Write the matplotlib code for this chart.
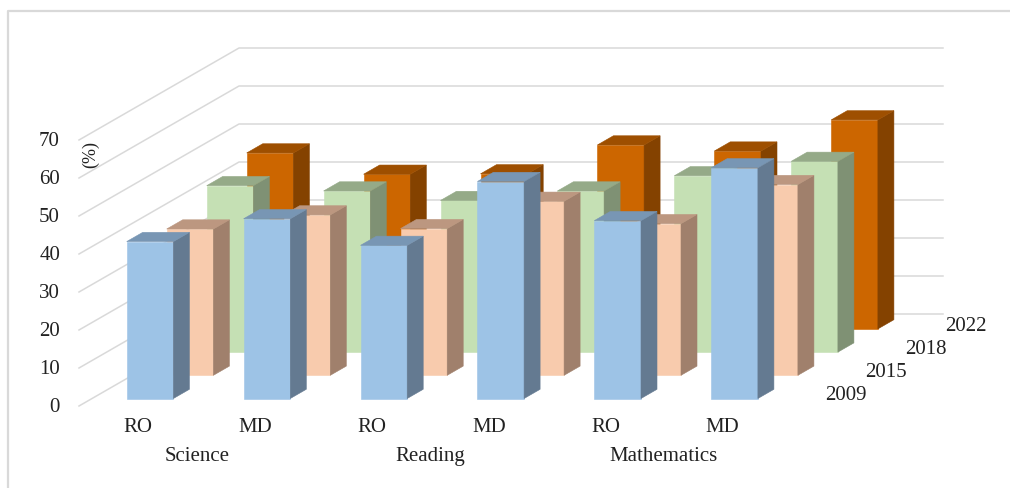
import matplotlib
matplotlib.use('Agg')
from matplotlib import pyplot as plt

# values (%)
subjects = ['Science', 'Reading', 'Mathematics']
countries = ['RO', 'MD', 'RO', 'MD', 'RO', 'MD']
years = ['2009', '2015', '2018', '2022']
y_ticks = [0, 10, 20, 30, 40, 50, 60, 70]

values_2009 = [41.3, 47.3, 40.3, 57.1, 46.8, 60.7]
values_2015 = [38.5, 42.2, 38.6, 45.8, 39.9, 50.2]
values_2018 = [43.8, 42.4, 39.9, 42.4, 46.4, 50.2]
values_2022 = [46.3, 40.7, 40.8, 48.4, 46.8, 55.0]
all_values = [values_2009, values_2015, values_2018, values_2022]

# front, side, top
colors = [('#9DC3E6', '#647A91', '#7896B4'),
          ('#F8CBAD', '#A0806C', '#BC9780'),
          ('#C5E0B4', '#7F9174', '#95AA88'),
          ('#CC6600', '#844200', '#9E4F00')]

# pixels of the oblique view
UNIT = 3.8
BAR_W = 46.7
GROUP_STEP = 116.9
ROW_DX = 40.0
ROW_DY = -23.2
SIDE_DX = 16.0
SIDE_DY = -9.2
FONT = 'Liberation Serif'
SIZE = 15


def project(group, row):
    # left bottom corner of a bar front
    return 126.7 + group * GROUP_STEP + row * ROW_DX, 398.5 + row * ROW_DY


fig = plt.figure(figsize=(10.1, 4.88), dpi=100)
ax = fig.add_axes([0, 0, 1, 1])
ax.set_xlim(0, 1010)
ax.set_ylim(488, 0)
ax.axis('off')

# outer frame, only top and left show
ax.plot([8, 8, 1010], [488, 11, 11], color='#D9D9D9', lw=1.6, zorder=1)

# gridlines, side wall then back wall
for tick in y_ticks:
    h = tick * UNIT
    ax.plot([79, 239, 943], [406 - h, 314 - h, 314 - h], color='#D9D9D9', lw=1.1, zorder=1)
    ax.text(60, 407 - h, str(tick), family=FONT, fontsize=SIZE, ha='right', va='center', color='#222222')

# back row first so the front rows cover it
z = 2
for row in range(3, -1, -1):
    front, side, top = colors[row]
    for group, value in enumerate(all_values[row]):
        x, y = project(group, row)
        h = value * UNIT
        ax.fill([x, x + BAR_W, x + BAR_W, x], [y, y, y - h, y - h], color=front, lw=0.4, zorder=z)
        ax.fill([x + BAR_W, x + BAR_W + SIDE_DX, x + BAR_W + SIDE_DX, x + BAR_W],
                [y, y + SIDE_DY, y + SIDE_DY - h, y - h], color=side, lw=0.4, zorder=z)
        ax.fill([x, x + BAR_W, x + BAR_W + SIDE_DX, x + SIDE_DX],
                [y - h, y - h, y - h + SIDE_DY, y - h + SIDE_DY], color=top, lw=0.4, zorder=z)
    z += 1

# category labels
for group, name in enumerate(countries):
    x, y = project(group, 0)
    ax.text(x + 11.5, 427, name, family=FONT, fontsize=SIZE, ha='center', va='center', color='#222222')
for i, name in enumerate(subjects):
    x, y = project(2 * i, 0)
    ax.text(x + 70 - i * 0.5, 456.5, name, family=FONT, fontsize=SIZE, ha='center', va='center', color='#222222')

# series labels on the depth axis
for row, name in enumerate(years):
    ax.text(846 + row * ROW_DX, 396 + row * ROW_DY, name, family=FONT, fontsize=SIZE,
            ha='center', va='center', color='#222222')

ax.text(91, 155, '(%)', family=FONT, fontsize=13, rotation=90, ha='center', va='center', color='#222222')

plt.savefig('out.png', dpi=100)
